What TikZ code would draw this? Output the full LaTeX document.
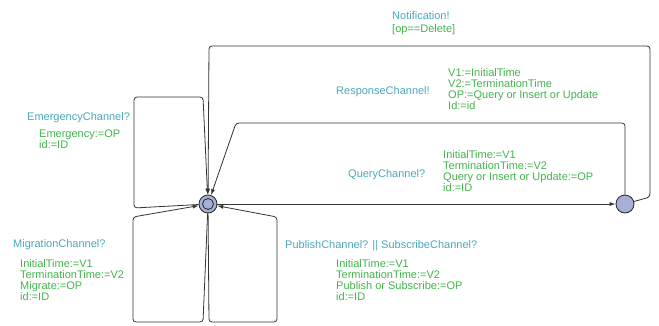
\documentclass[tikz,border=0pt]{standalone}
\usepackage{fontspec}
\setmainfont{Liberation Sans}
\usetikzlibrary{arrows.meta}
\definecolor{synccol}{RGB}{75,168,185}
\definecolor{assigncol}{RGB}{65,180,75}
\definecolor{locfill}{RGB}{165,176,212}
\tikzset{
  x=1pt, y=-1pt,
  loc/.style={circle, draw=black!85, line width=0.8pt, fill=locfill, minimum size=18pt, inner sep=0pt},
  edge/.style={draw=black!80, line width=0.8pt, rounded corners=3pt, -{Latex[length=6pt,width=4pt]}},
  lbl/.style={anchor=north west, inner sep=0pt, align=left, font=\fontsize{11}{11}\selectfont},
  sync/.style={lbl, text=synccol},
  assign/.style={lbl, text=assigncol}
}
\begin{document}
\begin{tikzpicture}
\useasboundingbox (0,0) rectangle (659,325);
% locations
\node[loc] (init) at (208,204) {};
\draw[black!85, line width=0.8pt] (init) circle (5.5pt);
\node[loc] (fin) at (625,204) {};

% nails
\coordinate (e1) at (134,208); \coordinate (e2) at (134,97); \coordinate (e3) at (203,97);
\coordinate (m1) at (203,322); \coordinate (m2) at (133,322); \coordinate (m3) at (133,217);
\coordinate (p1) at (209,322); \coordinate (p2) at (277,322); \coordinate (p3) at (277,217);
\coordinate (r1) at (625,123); \coordinate (r2) at (236,123);
\coordinate (n1) at (650,197); \coordinate (n2) at (650,46); \coordinate (n3) at (209,46);

% edges
\path[edge] (init) -- (e1) -- (e2) -- (e3) -- (init);
\path[edge] (init) -- (m1) -- (m2) -- (m3) -- (init);
\path[edge] (init) -- (p1) -- (p2) -- (p3) -- (init);
\path[edge] (init) -- (fin);
\path[edge] (fin) -- (r1) -- (r2) -- (init);
\path[edge] (fin) -- (n1) -- (n2) -- (n3) -- (init);

% labels
\node[sync] (notifs) at (392,11) {Notification!};
\node[assign] (notifg) at (392,24) {[op==Delete]};
\node[sync] (resps) at (336,86) {ResponseChannel!};
\node[assign] (respa) at (448,68) {V1:=InitialTime\\V2:=TerminationTime\\OP:=Query or Insert or Update\\Id:=id};
\node[sync] (emers) at (27,112) {EmergencyChannel?};
\node[assign] (emera) at (39,130) {Emergency:=OP\\id:=ID};
\node[sync] (querys) at (348,169) {QueryChannel?};
\node[assign] (querya) at (443,150) {InitialTime:=V1\\TerminationTime:=V2\\Query or Insert or Update:=OP\\id:=ID};
\node[sync] (migs) at (13,239) {MigrationChannel?};
\node[assign] (miga) at (20,259) {InitialTime:=V1\\TerminationTime:=V2\\Migrate:=OP\\id:=ID};
\node[sync] (pubs) at (285,240) {PublishChannel? || SubscribeChannel?};
\node[assign] (puba) at (336,259) {InitialTime:=V1\\TerminationTime:=V2\\Publish or Subscribe:=OP\\id:=ID};
\end{tikzpicture}
\end{document}
